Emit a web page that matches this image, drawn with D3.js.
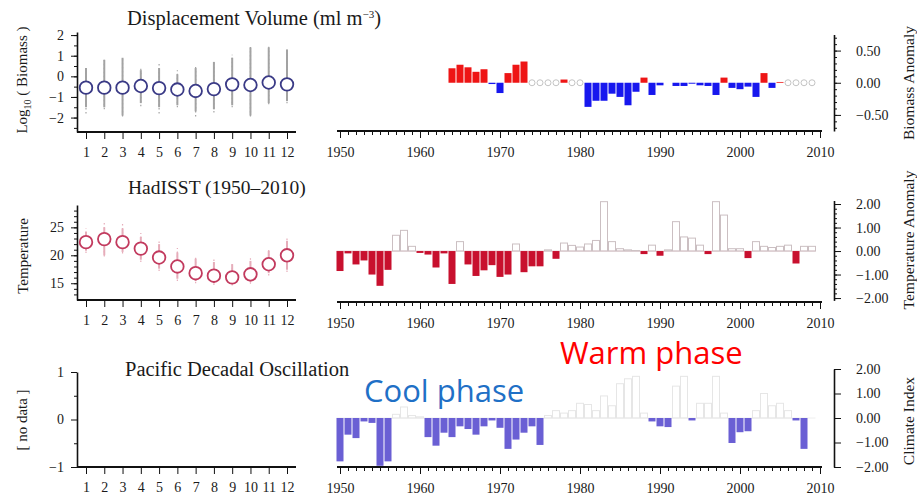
<!DOCTYPE html>
<html>
<head>
<meta charset="utf-8">
<script src="https://cdn.jsdelivr.net/npm/d3@7/dist/d3.min.js"></script>
<style>
  body { margin: 0; background: #fff; }
  svg text { font-family: "Liberation Serif", "DejaVu Serif", serif; fill: #1a1a1a; }
  .axis path, .axis line { stroke: #111; }
  .axis text { font-size: 14px; }
  .phase { font-family: "Open Sans", "Noto Sans", sans-serif !important; font-size: 31px; }
</style>
</head>
<body>
<svg id="chart" width="917" height="496"></svg>
<script>
// ---------------------------------------------------------------
// data
// ---------------------------------------------------------------
var months = [1, 2, 3, 4, 5, 6, 7, 8, 9, 10, 11, 12];
var decadeTicks = [1950, 1960, 1970, 1980, 1990, 2000, 2010];

// displacement volume, log10 biomass per month
var bioMean = [-0.55, -0.55, -0.55, -0.47, -0.57, -0.64, -0.71, -0.62, -0.39, -0.42, -0.30, -0.39];
var bioLo   = [-1.5, -1.5, -1.9, -1.3, -1.5, -1.4, -1.7, -1.6, -1.4, -1.9, -1.3, -1.2];
var bioHi   = [0.4, 0.8, 0.9, 0.3, 0.4, 0.1, 0.4, 0.7, 0.9, 1.4, 1.4, 1.3];
var bioMin  = [-1.8, -1.6, -1.95, -1.45, -1.8, -1.5, -1.95, -1.75, -1.5, -1.95, -1.35, -1.3];
var bioMax  = [0.45, 0.85, 0.95, 0.45, 0.65, 0.3, 0.45, 0.75, 1.05, 1.45, 1.45, 1.35];

// biomass anomaly by year, 1964-2009 (null = no sample that year)
var bioFirstYear = 1964;
var bioAnom = [0.225, 0.28, 0.24, 0.17, 0.21, -0.02, -0.16, 0.15, 0.28, 0.33,
               null, null, null, null, 0.05, null, null, -0.375, -0.28, -0.28,
               -0.17, -0.22, -0.35, -0.14, 0.08, -0.19, -0.04, 0.0, -0.05, -0.05,
               -0.015, -0.04, -0.05, -0.19, 0.08, -0.08, -0.10, -0.06, -0.22, 0.15,
               -0.08, 0.012, null, null, null, null];

// HadISST monthly temperature
var tempMean = [22.35, 22.9, 22.35, 21.2, 19.6, 18.0, 16.8, 16.35, 16.05, 16.6, 18.4, 20.0];
var tempLo   = [20.8, 20.0, 20.6, 19.2, 17.6, 15.8, 15.4, 15.0, 14.9, 15.2, 16.8, 17.4];
var tempHi   = [24.2, 25.0, 24.8, 23.3, 22.0, 20.5, 19.4, 18.8, 18.4, 19.0, 20.8, 22.6];
var tempMin  = [20.4, 19.8, 20.3, 18.8, 17.2, 15.4, 15.0, 14.7, 14.6, 14.9, 16.4, 17.0];
var tempMax  = [24.8, 26.0, 26.0, 24.0, 22.8, 21.3, 19.8, 19.3, 18.8, 19.5, 21.3, 23.3];

// temperature anomaly by year, 1950-2009
var tempFirstYear = 1950;
var tempAnom = [-0.85, -0.1, -0.57, -0.4, -1.0, -1.48, -0.8, 0.67, 0.88, 0.2,
                -0.08, -0.15, -0.7, -0.1, -1.4, 0.4, -0.57, -1.06, -0.82, -0.6,
                -1.1, -1.0, 0.3, -0.9, -0.65, -0.65, 0.05, -0.33, 0.34, 0.24,
                0.17, 0.3, 0.45, 2.1, 0.4, 0.1, 0.05, 0.02, -0.13, 0.25,
                -0.2, 0.05, 1.25, 0.6, 0.55, 0.25, -0.13, 2.1, 1.53, 0.1,
                0.1, -0.3, 0.4, 0.2, 0.15, 0.2, 0.25, -0.53, 0.2, 0.2];

// Pacific Decadal Oscillation index by year, 1950-2009
var pdoFirstYear = 1950;
var pdoIndex = [-1.77, -0.68, -0.82, -0.14, -0.2, -1.95, -1.77, 0.15, 0.45, 0.1,
                0.05, -0.78, -1.13, -0.6, -0.78, -0.34, -0.45, -0.68, -0.34, -0.1,
                -0.4, -1.26, -0.88, -0.6, -0.34, -1.1, 0.1, 0.3, 0.2, 0.3,
                0.6, 0.55, 0.3, 0.9, 0.5, 1.4, 1.6, 1.7, 0.2, -0.14,
                -0.34, -0.37, 1.3, 1.7, -0.1, 0.6, 0.6, 1.7, 0.2, -1.02,
                -0.58, -0.54, 0.3, 1.0, 0.5, 0.6, 0.3, -0.1, -1.26, 0.0];

// ---------------------------------------------------------------
// layout
// ---------------------------------------------------------------
var svg = d3.select("#chart");

var leftAxisX = 77;
var rightAxisX = 834;

var xMonth = d3.scaleLinear().domain([1, 12]).range([86, 287]);
var xYear = d3.scaleLinear().domain([1950, 2010]).range([340, 820]);
var barW = 7;

// one row = left monthly panel + right yearly panel
var rows = [
  { // displacement volume
    monthY: d3.scaleLinear().domain([-2.7, 2.15]).range([132, 32]),
    monthTicks: [-2, -1, 0, 1, 2], monthMinor: d3.range(-2.5, 2.1, 0.5), monthBase: 132,
    yearY: d3.scaleLinear().domain([-0.75, 0.75]).range([131, 34.5]),
    yearTicks: [-0.5, 0, 0.5], yearMinor: d3.range(-0.7, 0.71, 0.1), yearBase: 131
  },
  { // HadISST
    monthY: d3.scaleLinear().domain([12, 29]).range([300, 205]),
    monthTicks: [15, 20, 25], monthMinor: d3.range(13, 29, 1), monthBase: 300,
    yearY: d3.scaleLinear().domain([-2.1, 2.15]).range([300.4, 200.5]),
    yearTicks: [-2, -1, 0, 1, 2], yearMinor: d3.range(-2, 2.01, 0.2), yearBase: 302
  },
  { // PDO
    monthY: d3.scaleLinear().domain([-1, 1]).range([467, 372]),
    monthTicks: [-1, 0, 1], monthMinor: [-0.5, 0.5], monthBase: 467,
    yearY: d3.scaleLinear().domain([-2, 2]).range([467, 369]),
    yearTicks: [-2, -1, 0, 1, 2], yearMinor: [], yearBase: 467
  }
];

// ---------------------------------------------------------------
// axes
// ---------------------------------------------------------------
function drawAxes(row) {
  // left y axis, minor ticks first
  svg.append("g").attr("class", "axis")
     .attr("transform", "translate(" + leftAxisX + ",0)")
     .call(d3.axisLeft(row.monthY).tickValues(row.monthMinor).tickSize(3).tickSizeOuter(0).tickFormat(""))
     .select(".domain").attr("stroke-width", 1.6);
  svg.append("g").attr("class", "axis")
     .attr("transform", "translate(" + leftAxisX + ",0)")
     .call(d3.axisLeft(row.monthY).tickValues(row.monthTicks).tickSize(6).tickSizeOuter(0)
           .tickPadding(7).tickFormat(d3.format("d")))
     .select(".domain").remove();

  // month x axis
  var mx = svg.append("g").attr("class", "axis")
     .attr("transform", "translate(0," + row.monthBase + ")")
     .call(d3.axisBottom(xMonth).tickValues(months).tickSize(7).tickSizeOuter(0).tickPadding(8));
  mx.select(".domain").attr("d", "M" + leftAxisX + ",0H296").attr("stroke-width", 2);

  // year x axis: yearly minor ticks + decades
  var yx = svg.append("g").attr("class", "axis")
     .attr("transform", "translate(0," + row.yearBase + ")")
     .call(d3.axisBottom(xYear).tickValues(d3.range(1950, 2011)).tickSize(4).tickSizeOuter(0).tickFormat(""));
  yx.select(".domain").attr("d", "M337,0H822").attr("stroke-width", 2);
  svg.append("g").attr("class", "axis")
     .attr("transform", "translate(0," + row.yearBase + ")")
     .call(d3.axisBottom(xYear).tickValues(decadeTicks).tickSize(7).tickSizeOuter(0)
           .tickPadding(9).tickFormat(d3.format("d")))
     .select(".domain").remove();

  // right y axis
  var ry = svg.append("g").attr("class", "axis")
     .attr("transform", "translate(" + rightAxisX + ",0)")
     .call(d3.axisRight(row.yearY).tickValues(row.yearMinor).tickSize(3).tickSizeOuter(0).tickFormat(""));
  ry.select(".domain").attr("stroke-width", 1.6);
  svg.append("g").attr("class", "axis")
     .attr("transform", "translate(" + rightAxisX + ",0)")
     .call(d3.axisRight(row.yearY).tickValues(row.yearTicks).tickSize(7).tickSizeOuter(0)
           .tickPadding(15).tickFormat(d3.format(".2f")))
     .select(".domain").remove();
}

rows.forEach(drawAxes);

// ---------------------------------------------------------------
// monthly panels: range whiskers + mean circles
// ---------------------------------------------------------------
function drawMonthly(y, mean, lo, hi, mn, mx, lineColor, ringColor) {
  var g = svg.append("g");
  var data = months.map(function(m, i) {
    return { m: m, mean: mean[i], lo: lo[i], hi: hi[i], mn: mn[i], mx: mx[i] };
  });

  g.selectAll("line.range").data(data).enter().append("line")
    .attr("x1", function(d) { return xMonth(d.m); })
    .attr("x2", function(d) { return xMonth(d.m); })
    .attr("y1", function(d) { return y(d.lo); })
    .attr("y2", function(d) { return y(d.hi); })
    .attr("stroke", lineColor).attr("stroke-width", 2);

  // sparse outer points drawn dotted
  g.selectAll("line.outer").data(data).enter().append("line")
    .attr("x1", function(d) { return xMonth(d.m); })
    .attr("x2", function(d) { return xMonth(d.m); })
    .attr("y1", function(d) { return y(d.mn); })
    .attr("y2", function(d) { return y(d.mx); })
    .attr("stroke", lineColor).attr("stroke-width", 1.2)
    .attr("stroke-dasharray", "1.5,2.5");

  g.selectAll("circle").data(data).enter().append("circle")
    .attr("cx", function(d) { return xMonth(d.m); })
    .attr("cy", function(d) { return y(d.mean); })
    .attr("r", 6.3)
    .attr("fill", "#fff")
    .attr("stroke", ringColor).attr("stroke-width", 1.8);
}

drawMonthly(rows[0].monthY, bioMean, bioLo, bioHi, bioMin, bioMax, "#a3a3a3", "#3a3a86");
drawMonthly(rows[1].monthY, tempMean, tempLo, tempHi, tempMin, tempMax, "#e6adba", "#c23a5e");

// ---------------------------------------------------------------
// yearly anomaly bars
// ---------------------------------------------------------------
function drawYearly(y, firstYear, values, style) {
  var g = svg.append("g");
  var data = values.map(function(v, i) { return { year: firstYear + i, v: v }; });
  var present = data.filter(function(d) { return d.v !== null; });

  if (style.baseline) {
    g.append("line")
      .attr("x1", xYear(firstYear) - barW / 2).attr("x2", xYear(firstYear + values.length - 1) + barW / 2)
      .attr("y1", y(0)).attr("y2", y(0))
      .attr("stroke", style.baseline).attr("stroke-width", 1);
  }

  g.selectAll("rect").data(present).enter().append("rect")
    .attr("x", function(d) { return xYear(d.year) - barW / 2; })
    .attr("width", barW)
    .attr("y", function(d) { return y(Math.max(0, d.v)); })
    .attr("height", function(d) { return Math.abs(y(d.v) - y(0)); })
    .attr("fill", function(d) { return d.v >= 0 ? style.posFill : style.negFill; })
    .attr("stroke", function(d) { return d.v >= 0 ? style.posStroke : "none"; })
    .attr("stroke-width", 1);

  // missing years get a small open circle on the zero line
  g.selectAll("circle").data(data.filter(function(d) { return d.v === null; }))
    .enter().append("circle")
    .attr("cx", function(d) { return xYear(d.year); })
    .attr("cy", y(0))
    .attr("r", 3)
    .attr("fill", "none").attr("stroke", "#c4c4c4").attr("stroke-width", 1);
}

drawYearly(rows[0].yearY, bioFirstYear, bioAnom,
  { posFill: "#ee1515", posStroke: "none", negFill: "#1717ee" });
drawYearly(rows[1].yearY, tempFirstYear, tempAnom,
  { posFill: "none", posStroke: "#cbbfc2", negFill: "#c8102e", baseline: "#ead2d7" });
drawYearly(rows[2].yearY, pdoFirstYear, pdoIndex,
  { posFill: "none", posStroke: "#e6e6e6", negFill: "#6a5fd4", baseline: "#eeeeee" });

// ---------------------------------------------------------------
// titles and axis labels
// ---------------------------------------------------------------
var t1 = svg.append("text").attr("x", 127).attr("y", 25).attr("font-size", 20.5);
t1.append("tspan").text("Displacement Volume (ml m");
t1.append("tspan").attr("dy", -7).attr("font-size", 11).text("\u22123");
t1.append("tspan").attr("dy", 7).text(")");

svg.append("text").attr("x", 128).attr("y", 194).attr("font-size", 19.5).text("HadISST (1950\u20132010)");
svg.append("text").attr("x", 125).attr("y", 376).attr("font-size", 20.5).text("Pacific Decadal Oscillation");

function sideLabel(x, y, size) {
  return svg.append("text")
    .attr("transform", "translate(" + x + "," + y + ") rotate(-90)")
    .attr("text-anchor", "middle")
    .attr("font-size", size);
}

var l1 = sideLabel(27, 80, 15);
l1.append("tspan").text("Log");
l1.append("tspan").attr("dy", 4).attr("font-size", 10).text("10");
l1.append("tspan").attr("dy", -4).text(" ( Biomass )");

sideLabel(28, 256, 15).text("Temperature");
sideLabel(27, 420, 15).text("[ no data ]");

sideLabel(914, 83, 15.5).text("Biomass Anomaly");
sideLabel(914, 240, 15.5).text("Temperature Anomaly");
sideLabel(914, 421, 15.5).text("Climate Index");

// phase annotations
svg.append("text").attr("class", "phase").attr("x", 560).attr("y", 364)
   .style("fill", "#ff0000").text("Warm phase");
svg.append("text").attr("class", "phase").attr("x", 364).attr("y", 402)
   .style("fill", "#1f70c6").text("Cool phase");
</script>
</body>
</html>
